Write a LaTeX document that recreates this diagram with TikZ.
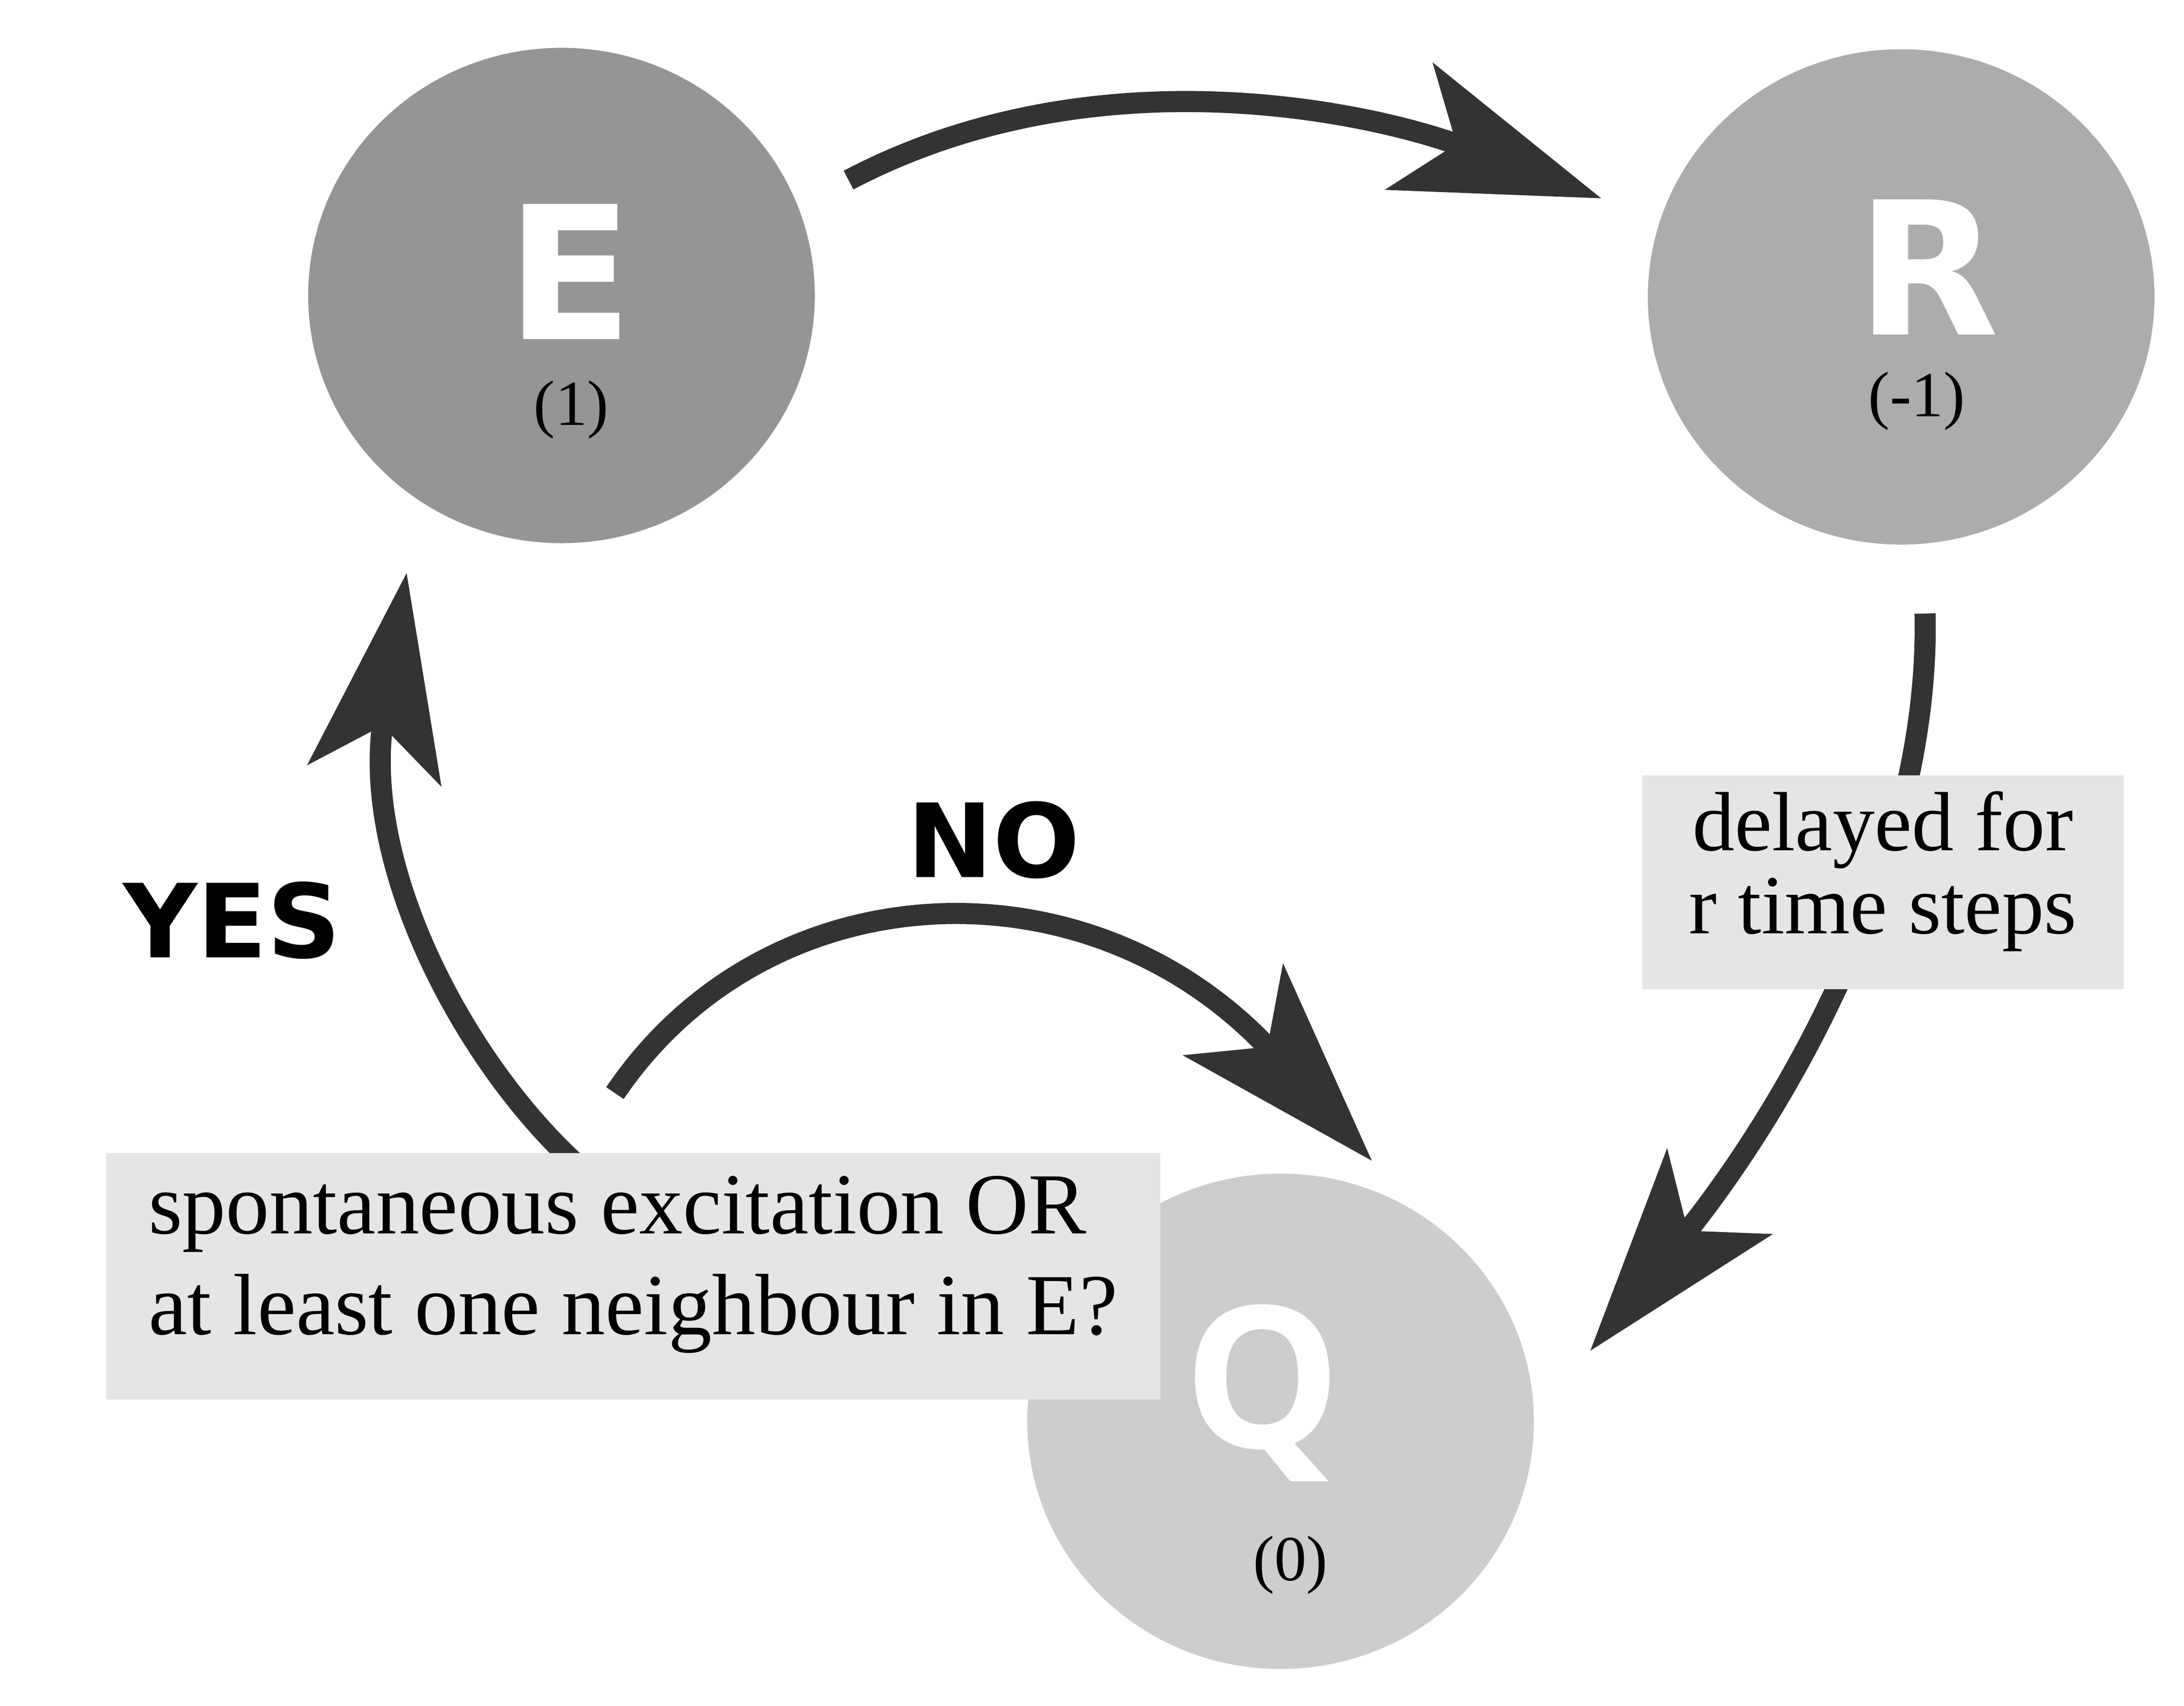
\documentclass[tikz,border=0pt]{standalone}
\usepackage{fontspec}
\setmainfont{Liberation Serif}
\newfontfamily\statefont{DejaVu Sans}
\newfontfamily\qfont{Open Sans}
\usetikzlibrary{arrows.meta,shapes.geometric,calc}

\definecolor{egray}{HTML}{959595}
\definecolor{rgray}{HTML}{ACACAC}
\definecolor{qgray}{HTML}{CDCDCD}
\definecolor{boxgray}{HTML}{E5E5E5}
\definecolor{arrowgray}{HTML}{333333}

\pgfdeclarelayer{back}
\pgfsetlayers{back,main}

\tikzset{
  state/.style={ellipse, minimum width=3.6cm, minimum height=3.52cm, inner sep=0pt},
  statename/.style={anchor=base, inner sep=0pt, text=white, font=\statefont\bfseries\fontsize{37.5}{40}\selectfont},
  statenum/.style={inner sep=0pt, font=\fontsize{13}{15}\selectfont},
  answer/.style={font=\statefont\bfseries\fontsize{20.7}{24}\selectfont},
  textbox/.style={fill=boxgray, inner sep=0pt},
  flow/.style={line width=0.15cm, draw=arrowgray, -{Stealth[length=1.45cm, width=0.95cm, inset=0.35cm]}},
}

\begin{document}
\begin{tikzpicture}

  \useasboundingbox (0,0) rectangle (15.52,12.12);

  % State nodes
  \node[state, fill=egray] (E) at (3.99,10.02) {};
  \node[state, fill=rgray] (R) at (13.51,10.01) {};
  \node[state, fill=qgray] (Q) at (9.10,2.02) {};

  % State names
  \node[statename] (Ename) at (4.05,9.71) {E};
  \node[statename] (Rname) at (13.70,9.74) {R};
  \node[statename, font=\qfont\bfseries\fontsize{40}{42}\selectfont] (Qname) at (8.97,1.83) {Q};

  % State values
  \node[statenum] (Enum) at (4.06,9.21) {(1)};
  \node[statenum] (Rnum) at (13.62,9.27) {(-1)};
  \node[statenum] (Qnum) at (9.17,1.00) {(0)};

  % Condition boxes
  \node[textbox, minimum width=7.49cm, minimum height=1.75cm, align=left,
        font=\fontsize{17.6}{20.4}\selectfont] (ask) at (4.50,3.05)
        {spontaneous excitation OR\\at least one neighbour in E?\rule[-0.3cm]{0pt}{0pt}};
  \node[textbox, minimum width=3.42cm, minimum height=1.52cm, align=center,
        font=\fontsize{17}{16.8}\selectfont] (delay) at (13.38,5.85)
        {delayed for\\r time steps\rule[-0.28cm]{0pt}{0pt}};

  % Answers
  \node[answer] (yes) at (1.65,5.58) {YES};
  \node[answer] (no) at (7.06,6.15) {NO};

  % Connections
  \begin{pgfonlayer}{back}
    \draw[flow] ($(E)+(2.04,0.82)$) .. controls (7.80,11.77) and (9.78,11.31) .. ($(R)+(-2.13,0.70)$);
    \draw[flow] ($(R)+(0.17,-2.25)$) .. controls (13.72,5.92) and (12.60,4.12) .. ($(Q)+(2.20,0.50)$);
    \draw[flow] ($(ask.north)+(-0.27,-0.20)$) .. controls (3.38,4.42) and (2.55,5.92) .. ($(E)+(-1.10,-1.97)$);
    \draw[flow] ($(ask.north)+(-0.13,0.42)$) .. controls (5.45,5.95) and (7.75,6.05) .. ($(Q)+(0.65,1.85)$);
  \end{pgfonlayer}

\end{tikzpicture}
\end{document}
